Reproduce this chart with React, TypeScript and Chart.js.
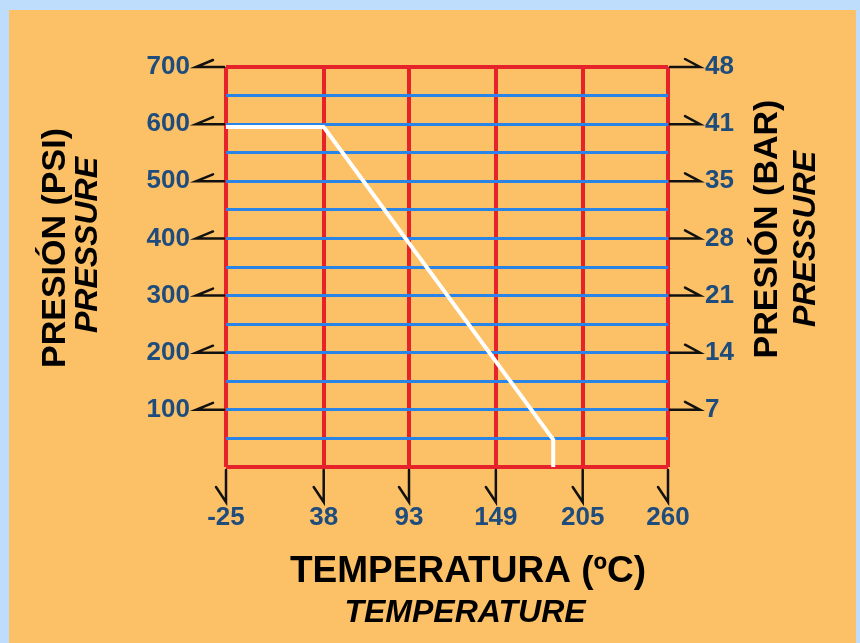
import React, { useEffect, useRef } from "react";
import { Chart, registerables } from "chart.js";

Chart.register(...registerables);

// ---- data ----
const TEMP_TICKS = [-25, 38, 93, 149, 205, 260];
const PSI_GRID = [0, 50, 100, 150, 200, 250, 300, 350, 400, 450, 500, 550, 600, 650, 700];
const PSI_LABEL_TICKS = [100, 200, 300, 400, 500, 600, 700];
const BAR_LABELS = ["7", "14", "21", "28", "35", "41", "48"];
const CURVE_TEMP = [-25, 38, 186, 186];
const CURVE_PSI = [595, 595, 48, 0];

const FONT = "'Liberation Sans', Arial, Helvetica, sans-serif";
const RED = "#E6232A";
const BLUE = "#2A84E8";
const LABEL_BLUE = "#1E4C7C";

const W = 847;
const H = 633;

const decoPlugin = {
  id: "deco",
  afterDraw(chart: any) {
    const ctx = chart.ctx as CanvasRenderingContext2D;
    const { left, right, bottom } = chart.chartArea;
    const ys = chart.scales.y;
    const xs = chart.scales.x;
    ctx.save();
    ctx.strokeStyle = "#111111";
    ctx.lineWidth = 2.5;
    ctx.lineJoin = "miter";
    ctx.lineCap = "round";
    PSI_LABEL_TICKS.forEach((v) => {
      const py = ys.getPixelForValue(v);
      ctx.beginPath();
      ctx.moveTo(left - 2, py);
      ctx.lineTo(left - 30, py);
      ctx.lineTo(left - 13, py - 7);
      ctx.stroke();
      ctx.beginPath();
      ctx.moveTo(right + 2, py);
      ctx.lineTo(right + 32, py);
      ctx.lineTo(right + 17, py - 8);
      ctx.stroke();
    });
    TEMP_TICKS.forEach((v) => {
      const px = xs.getPixelForValue(v);
      ctx.beginPath();
      ctx.moveTo(px, bottom + 3);
      ctx.lineTo(px, bottom + 35);
      ctx.lineTo(px - 10, bottom + 20);
      ctx.stroke();
    });

    // axis titles
    ctx.fillStyle = "#000000";
    ctx.textAlign = "center";
    ctx.textBaseline = "middle";
    const rot = (text: string, font: string, x: number, y: number) => {
      ctx.save();
      ctx.translate(x, y);
      ctx.rotate(-Math.PI / 2);
      ctx.font = font;
      ctx.fillText(text, 0, 0);
      ctx.restore();
    };
    rot("PRESIÓN (PSI)", `bold 34px ${FONT}`, 47, 238);
    rot("PRESSURE", `italic bold 32px ${FONT}`, 79, 235);
    rot("PRESIÓN (BAR)", `bold 34px ${FONT}`, 759, 219);
    rot("PRESSURE", `italic bold 32px ${FONT}`, 797, 229);

    ctx.font = `bold 37px ${FONT}`;
    ctx.fillText("TEMPERATURA (ºC)", 459, 562);
    ctx.font = `italic bold 32px ${FONT}`;
    ctx.fillText("TEMPERATURE", 456, 603);
    ctx.restore();
  },
};

export default function App() {
  const ref = useRef<HTMLCanvasElement | null>(null);

  useEffect(() => {
    if (!ref.current) return;
    const chart = new Chart(ref.current, {
      type: "line",
      data: {
        datasets: [
          {
            data: CURVE_TEMP.map((t, i) => ({ x: t, y: CURVE_PSI[i] })),
            borderColor: "#FFFFFF",
            borderWidth: 4,
            pointRadius: 0,
            fill: false,
            tension: 0,
          },
        ],
      },
      options: {
        animation: false,
        responsive: false,
        devicePixelRatio: 1,
        layout: { padding: { top: 57, left: 0, right: 0, bottom: 0 } },
        plugins: { legend: { display: false }, tooltip: { enabled: false } },
        scales: {
          x: {
            type: "linear",
            min: -25,
            max: 260,
            position: "bottom",
            afterBuildTicks: (s: any) => {
              s.ticks = TEMP_TICKS.map((v) => ({ value: v }));
            },
            afterFit: (s: any) => {
              s.height = 176;
            },
            grid: { color: RED, lineWidth: 4, drawTicks: false, z: -2 },
            border: { display: false },
            ticks: {
              autoSkip: false,
              maxRotation: 0,
              padding: 35,
              color: LABEL_BLUE,
              font: { family: FONT, size: 26, weight: "bold" },
              callback: (v: any) => String(v),
            },
          },
          y: {
            type: "linear",
            min: 0,
            max: 700,
            position: "left",
            afterBuildTicks: (s: any) => {
              s.ticks = PSI_GRID.map((v) => ({ value: v }));
            },
            afterFit: (s: any) => {
              s.width = 217;
            },
            grid: {
              color: (c: any) => (c.tick && (c.tick.value === 0 || c.tick.value === 700) ? RED : BLUE),
              lineWidth: (c: any) => (c.tick && (c.tick.value === 0 || c.tick.value === 700) ? 4 : 3),
              drawTicks: false,
              z: -1,
            },
            border: { display: false },
            ticks: {
              autoSkip: false,
              padding: 36,
              color: LABEL_BLUE,
              font: { family: FONT, size: 26, weight: "bold" },
              callback: (v: any) => (PSI_LABEL_TICKS.includes(Number(v)) ? String(v) : ""),
            },
          },
          y2: {
            type: "linear",
            min: 0,
            max: 700,
            position: "right",
            afterBuildTicks: (s: any) => {
              s.ticks = PSI_LABEL_TICKS.map((v) => ({ value: v }));
            },
            afterFit: (s: any) => {
              s.width = 188;
            },
            grid: { display: false, drawTicks: false },
            border: { display: false },
            ticks: {
              autoSkip: false,
              padding: 37,
              color: LABEL_BLUE,
              font: { family: FONT, size: 26, weight: "bold" },
              callback: (v: any) => {
                const i = PSI_LABEL_TICKS.indexOf(Number(v));
                return i >= 0 ? BAR_LABELS[i] : "";
              },
            },
          },
        },
      } as any,
      plugins: [decoPlugin],
    });
    return () => chart.destroy();
  }, []);

  return (
    <div
      style={{
        position: "fixed",
        left: 0,
        top: 0,
        width: 860,
        height: 643,
        background: "#BEDCFB",
        overflow: "hidden",
      }}
    >
      <div
        style={{
          position: "absolute",
          left: 9,
          top: 10,
          width: W,
          height: H,
          background: "#FCC067",
        }}
      >
        <canvas ref={ref} width={W} height={H} style={{ width: W, height: H, display: "block" }} />
      </div>
    </div>
  );
}
